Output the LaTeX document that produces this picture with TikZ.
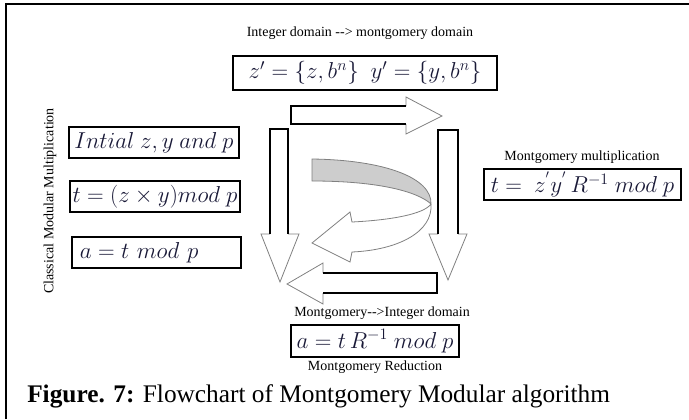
\documentclass[tikz,border=0pt]{standalone}
\usepackage{fontspec}
\setmainfont{Liberation Serif}
\definecolor{mathink}{RGB}{25,25,55}
\definecolor{ribbon}{RGB}{205,205,205}
\tikzset{
	mathbox/.style={draw,line width=1.3pt,inner sep=0pt,text=mathink,font=\fontsize{17.5}{20}\selectfont},
	note/.style={inner sep=0pt,font=\fontsize{10.5}{12}\selectfont},
	bodyline/.style={line width=1.5pt},
	headline/.style={gray,line width=0.6pt,fill=white},
}

\begin{document}
\begin{tikzpicture}[x=0.75pt,y=-0.75pt]
	\useasboundingbox (0,0) rectangle (689,419);
	\draw[line width=1.5pt] (6,419) -- (6,4) -- (689,4);

	\node[note] (title) at (360,33) {Integer domain -{}-> montgomery domain};
	\node[mathbox,minimum width=198pt,minimum height=25.5pt] (zbox) at (365,73) {$z'=\{z,b^n\}\ \ y'=\{y,b^n\}$};

	\node[note,rotate=90] (side) at (50,201) {Classical Modular Multiplication};
	\node[mathbox,minimum width=127.5pt,minimum height=23.25pt] (initbox) at (154,142.5) {$Intial\ z,y\ and\ p$};
	\node[mathbox,minimum width=127.5pt,minimum height=23.25pt] (tbox) at (155,196.5) {$t=(z\times y)mod\ p$};
	\node[mathbox,minimum width=126.75pt,minimum height=23.25pt,text width=115pt,align=left] (abox) at (156.5,252.5) {$a=t\ mod\ p$};

	\node[note] (mmlabel) at (582,157) {Montgomery multiplication};
	\node[mathbox,minimum width=147.75pt,minimum height=23.25pt] (mmbox) at (582.5,184.5) {$t=\ z^{'}y^{'}\,R^{-1}\ mod\ p$};

	\node[note] (mrlabel) at (382,313) {Montgomery-{}->Integer domain};
	\node[mathbox,minimum width=126pt,minimum height=24pt] (mrbox) at (375,341) {$a=t\,R^{-1}\ mod\ p$};
	\node[note] (mrname) at (375,367) {Montgomery Reduction};

	\node[anchor=west,inner sep=0pt,font=\fontsize{19}{22}\selectfont] (caption) at (27,396) {\textbf{Figure. 7:} Flowchart of Montgomery Modular algorithm};

	\draw[headline] (406,106) -- (406,97) -- (442,116) -- (406,134) -- (406,124);
	\draw[bodyline] (406,106) -- (291,106) -- (291,124) -- (406,124);

	\draw[headline] (270,234) -- (261,234) -- (280,282) -- (299,234) -- (288,234);
	\draw[bodyline] (270,234) -- (270,129) -- (288,129) -- (288,234);

	\draw[headline] (438,234) -- (429,234) -- (448,280) -- (467,234) -- (458,234);
	\draw[bodyline] (438,234) -- (438,130) -- (458,130) -- (458,234);

	\draw[headline] (323,273) -- (323,263) -- (287,284) -- (323,304) -- (323,293);
	\draw[bodyline] (323,273) -- (437,273) -- (437,293) -- (323,293);

	\draw[gray,line width=0.6pt,fill=ribbon] (312,159) .. controls (385,160) and (432,178) .. (431,204)
		.. controls (418,192) and (380,181) .. (312,181) -- cycle;
	\draw[headline] (431,204) .. controls (424,214) and (392,220) .. (352,222) -- (350,212) -- (312,243)
		-- (350,262) -- (352,252) .. controls (398,250) and (433,232) .. (431,204);
\end{tikzpicture}
\end{document}
